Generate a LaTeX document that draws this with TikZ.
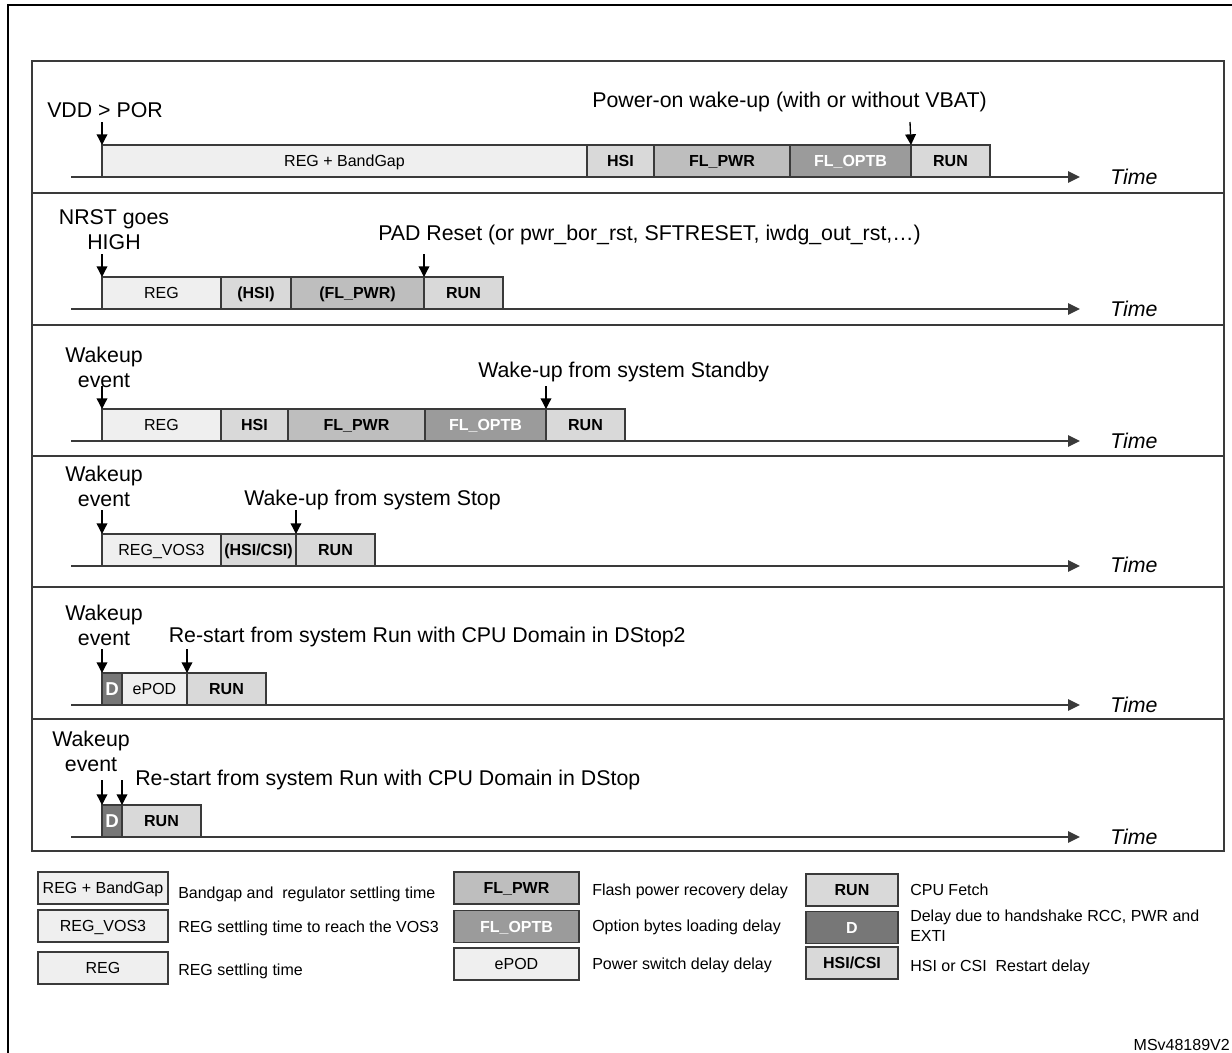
\documentclass[tikz,border=0pt]{standalone}
\usepackage{fontspec}
\setmainfont{Liberation Sans}
\usepackage{tikz}
\usetikzlibrary{arrows.meta}
\usetikzlibrary{positioning}

\definecolor{regfill}{HTML}{EFEFEF}
\definecolor{hsifill}{HTML}{D9D9D9}
\definecolor{pwrfill}{HTML}{BEBEBE}
\definecolor{optbfill}{HTML}{9B9B9B}
\definecolor{dfill}{HTML}{777777}
\definecolor{edge}{HTML}{3A3A3A}

\begin{document}
\begin{tikzpicture}[x=0.75pt, y=-0.75pt,
    box/.style={draw=edge, line width=1pt, inner sep=0pt, outer sep=0pt, minimum height=24pt, text height=8.6pt, text depth=0pt, font=\fontsize{12}{14}\selectfont},
    bw/.style={minimum width=#1*0.75pt},
    regbox/.style={box, fill=regfill},
    hsibox/.style={box, fill=hsifill, font=\fontsize{12}{14}\selectfont\bfseries},
    pwrbox/.style={box, fill=pwrfill, font=\fontsize{12}{14}\selectfont\bfseries},
    optbbox/.style={box, fill=optbfill, text=white, font=\fontsize{12}{14}\selectfont\bfseries},
    dbox/.style={box, fill=dfill, text=white, text height=10pt, font=\fontsize{14}{16}\selectfont\bfseries},
    big/.style={inner sep=0pt, font=\fontsize{16}{18.75}\selectfont},
    tm/.style={inner sep=0pt, anchor=base west, font=\fontsize{16}{18.75}\selectfont\itshape},
    leg/.style={inner sep=0pt, anchor=base west, font=\fontsize{12}{15}\selectfont},
    panel/.style={draw=edge, line width=1.1pt},
    timeline/.style={draw=edge, line width=1.2pt, -{Triangle[length=9pt, width=8.5pt]}},
    ev/.style={line width=1pt, -{Triangle[length=8pt, width=8pt]}}]

    \useasboundingbox (0,0) rectangle (1232,1053);
    \fill[white] (0,0) rectangle (1232,1053);
    \draw[line width=2pt] (8,1100) -- (8,5) -- (1300,5);

    \draw[panel] (32,61) rectangle (1224,851);
    \draw[panel] (32,193) -- (1224,193);
    \draw[panel] (32,325) -- (1224,325);
    \draw[panel] (32,456) -- (1224,456);
    \draw[panel] (32,587) -- (1224,587);
    \draw[panel] (32,719) -- (1224,719);

    % power-on
    \node[regbox, bw=485, anchor=south west] (p1reg) at (102,177) {REG + BandGap};
    \node[hsibox, bw=67, right=0pt of p1reg] (p1hsi) {HSI};
    \node[pwrbox, bw=136, right=0pt of p1hsi] (p1pwr) {FL\_PWR};
    \node[optbbox, bw=121, right=0pt of p1pwr] (p1optb) {FL\_OPTB};
    \node[hsibox, bw=79, right=0pt of p1optb] (p1run) {RUN};
    \node[big, anchor=base west] (p1lbl) at (47,117) {VDD > POR};
    \node[big, anchor=base west] (p1evt) at (592,107) {Power-on wake-up (with or without VBAT)};
    \node[tm] (p1time) at (1110,184) {Time};
    \coordinate (p1a) at (102,122);
    \coordinate (p1b) at (910,122);
    \coordinate (p1s) at (71,177);
    \coordinate (p1e) at (1080,177);
    \draw[ev] (p1a) -- (p1reg.north west);
    \draw[ev] (p1b) -- (p1run.north west);
    \draw[timeline] (p1s) -- (p1e);

    % pad reset
    \node[regbox, bw=119, anchor=south west] (p2reg) at (102,309) {REG};
    \node[hsibox, bw=70, right=0pt of p2reg] (p2hsi) {(HSI)};
    \node[pwrbox, bw=133, right=0pt of p2hsi] (p2pwr) {(FL\_PWR)};
    \node[hsibox, bw=79, right=0pt of p2pwr] (p2run) {RUN};
    \node[big, align=center, anchor=north] (p2lbl) at (114,209.5) {NRST goes\\HIGH};
    \node[big, anchor=base west] (p2evt) at (378,240) {PAD Reset (or pwr\_bor\_rst, SFTRESET, iwdg\_out\_rst,…)};
    \node[tm] (p2time) at (1110,316) {Time};
    \coordinate (p2a) at (102,254);
    \coordinate (p2b) at (424,254);
    \coordinate (p2s) at (71,309);
    \coordinate (p2e) at (1080,309);
    \draw[ev] (p2a) -- (p2reg.north west);
    \draw[ev] (p2b) -- (p2run.north west);
    \draw[timeline] (p2s) -- (p2e);

    % standby
    \node[regbox, bw=119, anchor=south west] (p3reg) at (102,441) {REG};
    \node[hsibox, bw=67, right=0pt of p3reg] (p3hsi) {HSI};
    \node[pwrbox, bw=137, right=0pt of p3hsi] (p3pwr) {FL\_PWR};
    \node[optbbox, bw=121, right=0pt of p3pwr] (p3optb) {FL\_OPTB};
    \node[hsibox, bw=79, right=0pt of p3optb] (p3run) {RUN};
    \node[big, align=center, anchor=north] (p3lbl) at (104,346.5) {Wakeup\\event};
    \node[big, anchor=base west] (p3evt) at (478,377) {Wake-up from system Standby};
    \node[tm] (p3time) at (1110,448) {Time};
    \coordinate (p3a) at (102,386);
    \coordinate (p3b) at (546,386);
    \coordinate (p3s) at (71,441);
    \coordinate (p3e) at (1080,441);
    \draw[ev] (p3a) -- (p3reg.north west);
    \draw[ev] (p3b) -- (p3run.north west);
    \draw[timeline] (p3s) -- (p3e);

    % stop
    \node[regbox, bw=119, anchor=south west] (p4reg) at (102,566) {REG\_VOS3};
    \node[hsibox, bw=75, right=0pt of p4reg] (p4hsi) {(HSI/CSI)};
    \node[hsibox, bw=79, right=0pt of p4hsi] (p4run) {RUN};
    \node[big, align=center, anchor=north] (p4lbl) at (104,466) {Wakeup\\event};
    \node[big, anchor=base west] (p4evt) at (244,505) {Wake-up from system Stop};
    \node[tm] (p4time) at (1110,572) {Time};
    \coordinate (p4a) at (102,510);
    \coordinate (p4b) at (296,510);
    \coordinate (p4s) at (71,566);
    \coordinate (p4e) at (1080,566);
    \draw[ev] (p4a) -- (p4reg.north west);
    \draw[ev] (p4b) -- (p4run.north west);
    \draw[timeline] (p4s) -- (p4e);

    % dstop2
    \node[dbox, bw=20, anchor=south west] (p5d) at (102,705) {D};
    \node[regbox, bw=65, right=0pt of p5d] (p5pod) {ePOD};
    \node[hsibox, bw=79, right=0pt of p5pod] (p5run) {RUN};
    \node[big, align=center, anchor=north] (p5lbl) at (104,605) {Wakeup\\event};
    \node[big, anchor=base west] (p5evt) at (168.5,642) {Re-start from system Run with CPU Domain in DStop2};
    \node[tm] (p5time) at (1110,712) {Time};
    \coordinate (p5a) at (102,649);
    \coordinate (p5b) at (187,649);
    \coordinate (p5s) at (71,705);
    \coordinate (p5e) at (1080,705);
    \draw[ev] (p5a) -- (p5d.north west);
    \draw[ev] (p5b) -- (p5run.north west);
    \draw[timeline] (p5s) -- (p5e);

    % dstop
    \node[dbox, bw=20, anchor=south west] (p6d) at (102,837) {D};
    \node[hsibox, bw=79, right=0pt of p6d] (p6run) {RUN};
    \node[big, align=center, anchor=north] (p6lbl) at (91,730.5) {Wakeup\\event};
    \node[big, anchor=base west] (p6evt) at (135,785) {Re-start from system Run with CPU Domain in DStop};
    \node[tm] (p6time) at (1110,844) {Time};
    \coordinate (p6a) at (102,780);
    \coordinate (p6b) at (122,780);
    \coordinate (p6s) at (71,837);
    \coordinate (p6e) at (1080,837);
    \draw[ev] (p6a) -- (p6d.north west);
    \draw[ev] (p6b) -- (p6run.north west);
    \draw[timeline] (p6s) -- (p6e);

    % legend
    \node[regbox, bw=130, anchor=west] (lgbg) at (38,888) {REG + BandGap};
    \node[regbox, bw=130, anchor=west] (lgvos) at (38,926) {REG\_VOS3};
    \node[regbox, bw=130, anchor=west] (lgreg) at (38,968) {REG};
    \node[leg] (lgbgt) at (178,898) {Bandgap and\ \ regulator settling time};
    \node[leg] (lgvost) at (178,932) {REG settling time to reach the VOS3};
    \node[leg] (lgregt) at (178,975) {REG settling time};

    \node[pwrbox, bw=125, anchor=west] (lgpwr) at (454,888) {FL\_PWR};
    \node[optbbox, bw=125, anchor=west] (lgoptb) at (454,926.5) {FL\_OPTB};
    \node[regbox, bw=125, anchor=west] (lgpod) at (454,964) {ePOD};
    \node[leg] (lgpwrt) at (592,895) {Flash power recovery delay};
    \node[leg] (lgoptbt) at (592,931) {Option bytes loading delay};
    \node[leg] (lgpodt) at (592,969) {Power switch delay delay};

    \node[hsibox, bw=92, anchor=west] (lgrun) at (806,890) {RUN};
    \node[dbox, bw=92, anchor=west, text height=8.6pt, font=\fontsize{12}{14}\selectfont\bfseries] (lgd) at (806,927.5) {D};
    \node[hsibox, bw=92, anchor=west] (lgcsi) at (806,963) {HSI/CSI};
    \node[leg] (lgrunt) at (910,895) {CPU Fetch};
    \node[leg, align=left, anchor=north west] (lgdt) at (910,910) {Delay due to handshake RCC, PWR and\\EXTI};
    \node[leg] (lgcsit) at (910,971) {HSI or CSI\ \ Restart delay};

    \node[leg, anchor=base east] (ref) at (1230,1050) {MSv48189V2};

\end{tikzpicture}
\end{document}
